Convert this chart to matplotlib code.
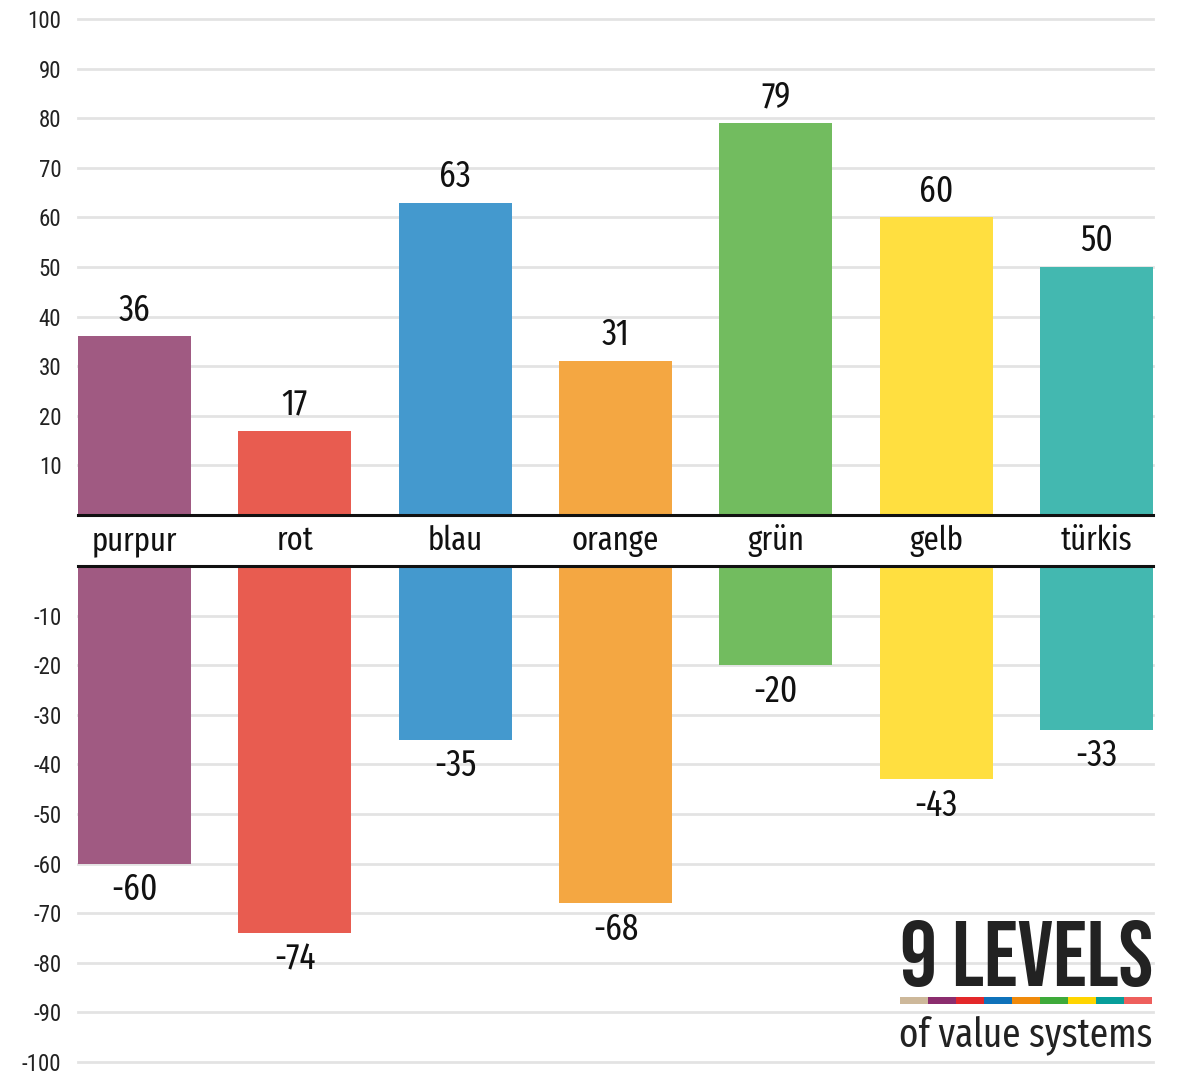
import numpy as np
import matplotlib
matplotlib.use("Agg")
import matplotlib.pyplot as plt

categories = ['purpur', 'rot', 'blau', 'orange', 'grün', 'gelb', 'türkis']
positive = [36, 17, 63, 31, 79, 60, 50]
negative = [-60, -74, -35, -68, -20, -43, -33]
bar_colors = ['#A05A82', '#E85C50', '#4499CE', '#F4A742', '#72BC5F', '#FFDF40', '#43B8B0']
stripe_colors = ['#CDB89A', '#8B2D6E', '#E3272A', '#0F72BA', '#F08A0B',
                 '#3EAA3A', '#FFD500', '#079E9A', '#EE5F5C']
pos_ticks = [10, 20, 30, 40, 50, 60, 70, 80, 90, 100]
neg_ticks = [-10, -20, -30, -40, -50, -60, -70, -80, -90, -100]

plt.rcParams['font.family'] = ['Fira Sans Extra Condensed', 'DejaVu Sans']
tick_font = ['Roboto Condensed', 'Fira Sans Condensed', 'DejaVu Sans']
logo_font = ['Bebas Neue', 'Oswald', 'DejaVu Sans']

W, H = 1177, 1071
fig = plt.figure(figsize=(W / 100, H / 100), dpi=100)

def fx(px):
    return px / W

def fy(py):
    return 1 - py / H

left, right = 78, 1153
ax_top = fig.add_axes([fx(left), fy(515), fx(right - left), fy(19) - fy(515)])
ax_bot = fig.add_axes([fx(left), fy(1062), fx(right - left), fy(566) - fy(1062)])

x = np.arange(len(categories))
width = 0.705
grid_c = '#E3E3E3'

for ax, vals, ticks, lim in [(ax_top, positive, pos_ticks, (0, 100)),
                             (ax_bot, negative, neg_ticks, (-100, 0))]:
    for t in ticks:
        ax.axhline(t, color=grid_c, lw=2, zorder=0, clip_on=False)
    ax.bar(x, vals, width=width, color=bar_colors, zorder=2)
    ax.axhline(0, color='#111111', lw=2.2, zorder=3, clip_on=False)
    ax.set_xlim(-width / 2, len(categories) - 1 + width / 2)
    ax.set_ylim(*lim)
    ax.set_yticks(ticks)
    ax.set_yticklabels([str(t) for t in ticks], family=tick_font)
    ax.tick_params(axis='y', length=0, pad=12, labelsize=16.5, labelcolor='#222222')
    ax.set_xticks([])
    for s in ax.spines.values():
        s.set_visible(False)
    ax.patch.set_alpha(0)

for xi, v in zip(x, positive):
    ax_top.annotate(str(v), (xi, v), xytext=(0, 6), textcoords='offset points',
                    ha='center', va='bottom', fontsize=26, color='#111111')
for xi, v in zip(x, negative):
    ax_bot.annotate(str(v), (xi, v), xytext=(0, -6), textcoords='offset points',
                    ha='center', va='top', fontsize=26, color='#111111')

for xi, c in zip(x, categories):
    ax_top.text(xi, -5.2, c, ha='center', va='center', fontsize=24,
                color='#111111', clip_on=False)

# logo
fig.text(fx(1153), fy(986), '9 LEVELS', ha='right', va='baseline', fontsize=67,
         color='#222222', family=logo_font)
seg = (1152 - 900) / len(stripe_colors)
for i, c in enumerate(stripe_colors):
    fig.patches.append(plt.Rectangle((fx(900 + i * seg), fy(1004)), fx(seg), fy(997) - fy(1004),
                                     transform=fig.transFigure, color=c, lw=0))
fig.text(fx(1152), fy(1046), 'of value systems', ha='right', va='baseline', fontsize=29,
         color='#222222')

fig.savefig('out.png', dpi=100)
